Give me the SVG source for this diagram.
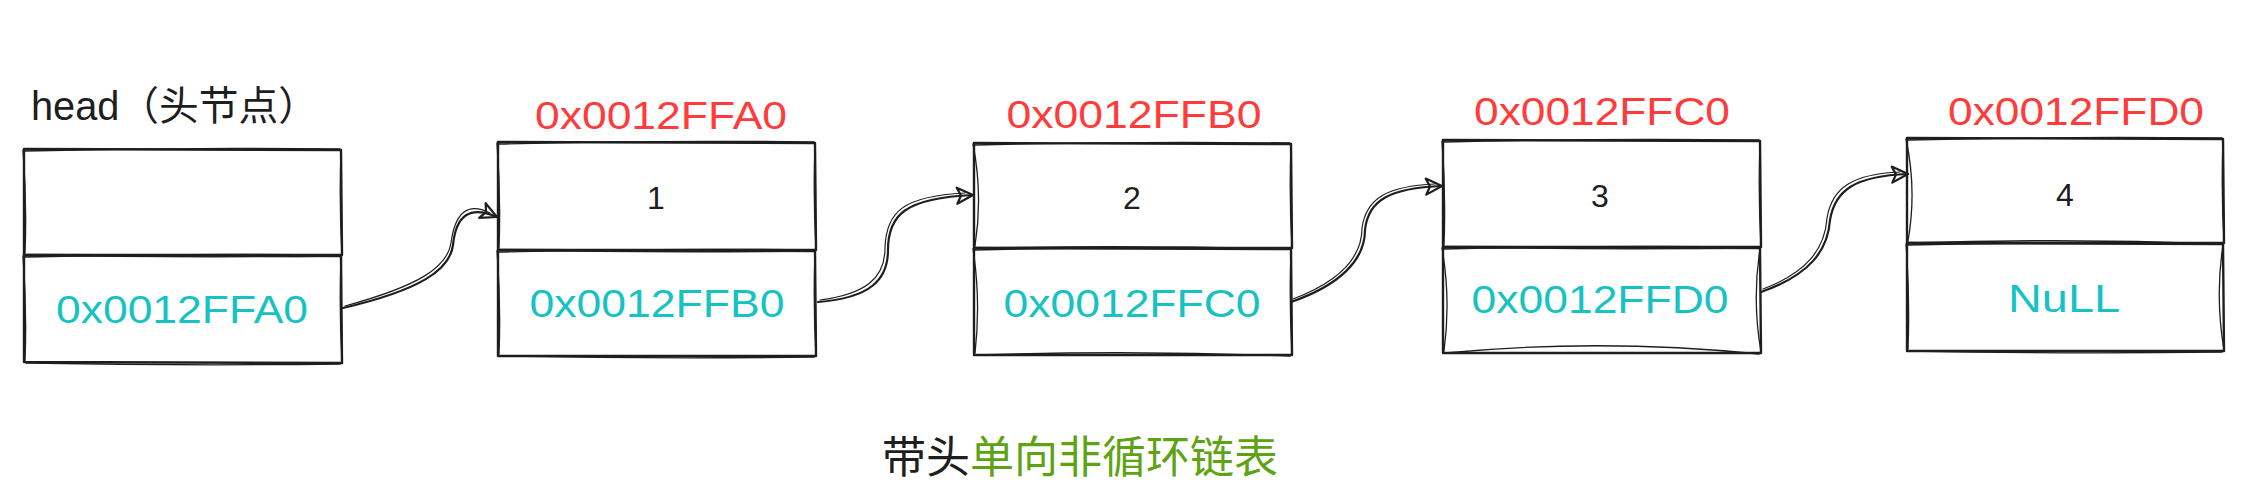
<svg xmlns="http://www.w3.org/2000/svg" width="2257" height="484" viewBox="0 0 2257 484">
<style>
.bg{fill:#ffffff}
.sk{fill:none;stroke:#1e1e1e;stroke-width:2.4;stroke-linecap:round;stroke-linejoin:round}
.sk2{fill:none;stroke:#1e1e1e;stroke-width:1.3;stroke-linecap:round}
.con{fill:none;stroke:#1e1e1e;stroke-width:2.2;stroke-linecap:round}
.con2{fill:none;stroke:#1e1e1e;stroke-width:1.2;stroke-linecap:round}
.addr{font-family:"Liberation Sans","Noto Sans",sans-serif;font-size:38px;fill:#ff3b3b;text-anchor:middle}
.ptr{font-family:"Liberation Sans","Noto Sans",sans-serif;font-size:38px;fill:#17c2c2;text-anchor:middle}
.val{font-family:"Liberation Sans","Noto Sans",sans-serif;font-size:32px;fill:#1e1e1e;text-anchor:middle}
.lbl{font-family:"Liberation Sans","Noto Sans CJK SC",sans-serif;font-size:40px;fill:#1e1e1e}
.cap{font-family:"Noto Sans CJK SC",sans-serif;font-size:44px}
</style>
<defs>
<marker id="arr" markerUnits="userSpaceOnUse" markerWidth="30" markerHeight="30" refX="20" refY="10" orient="auto" viewBox="0 0 30 20">
<path d="M4 2 L20 10 L4 18 L8 10 Z" fill="none" stroke="#1e1e1e" stroke-width="2.2" stroke-linejoin="round"/>
</marker>
</defs>
<rect class="bg" x="0" y="0" width="2257" height="484"/>

<g id="head">
<text class="lbl" x="31" y="120" textLength="287" lengthAdjust="spacingAndGlyphs">head（头节点）</text>
<path class="sk" d="M24 149 L341 150 L342 255 L24 255 Z"/>
<path class="sk2" d="M25 151 Q182 147 340 149 M341 151 Q339 202 342 254 M340 256 Q182 258 26 255 M25 253 Q27 202 23 150"/>
<path class="sk" d="M24 255 L341 256 L342 363 L24 362 Z"/>
<path class="sk2" d="M25 257 Q182 253 340 255 M341 257 Q339 309 342 362 M340 364 Q182 366 26 363 M25 361 Q27 309 23 256"/>
<text class="ptr" x="182" y="323" textLength="252" lengthAdjust="spacingAndGlyphs">0x0012FFA0</text>
</g>

<g id="node1">
<text class="addr" x="661" y="129" textLength="252" lengthAdjust="spacingAndGlyphs">0x0012FFA0</text>
<path class="sk" d="M498 142 L815 143 L816 250 L498 250 Z"/>
<path class="sk2" d="M499 144 Q656 140 814 142 M815 144 Q813 196 816 249 M814 251 Q656 253 500 250 M499 248 Q501 196 497 143"/>
<path class="sk" d="M498 250 L815 251 L816 356 L498 356 Z"/>
<path class="sk2" d="M499 252 Q656 248 814 250 M815 252 Q813 303 816 355 M814 357 Q656 359 500 356 M499 354 Q501 303 497 251"/>
<text class="val" x="656" y="209">1</text>
<text class="ptr" x="657" y="317" textLength="255" lengthAdjust="spacingAndGlyphs">0x0012FFB0</text>
</g>

<g id="node2">
<text class="addr" x="1134" y="128" textLength="255" lengthAdjust="spacingAndGlyphs">0x0012FFB0</text>
<path class="sk" d="M974 143 L1291 144 L1292 248 L974 248 Z"/>
<path class="sk2" d="M975 145 Q1132 141 1290 143 M1291 145 Q1289 195 1292 247 M1290 249 Q1132 245 976 248 M975 246 Q983 195 973 144"/>
<path class="sk" d="M974 248 L1291 249 L1292 355 L974 355 Z"/>
<path class="sk2" d="M975 250 Q1132 246 1290 248 M1291 250 Q1289 301 1292 354 M1290 356 Q1132 350 976 355 M975 353 Q981 301 973 249"/>
<text class="val" x="1132" y="209">2</text>
<text class="ptr" x="1132" y="317" textLength="257" lengthAdjust="spacingAndGlyphs">0x0012FFC0</text>
</g>

<g id="node3">
<text class="addr" x="1602" y="125" textLength="256" lengthAdjust="spacingAndGlyphs">0x0012FFC0</text>
<path class="sk" d="M1443 140 L1760 141 L1761 247 L1443 247 Z"/>
<path class="sk2" d="M1444 142 Q1601 138 1759 140 M1760 142 Q1758 193 1761 246 M1759 248 Q1601 250 1445 247 M1444 245 Q1446 193 1442 141"/>
<path class="sk" d="M1443 247 L1760 248 L1761 353 L1443 353 Z"/>
<path class="sk2" d="M1444 249 Q1601 245 1759 247 M1760 249 Q1752 300 1761 352 M1759 354 Q1601 338 1445 353 M1444 351 Q1451 300 1442 248"/>
<text class="val" x="1600" y="207">3</text>
<text class="ptr" x="1600" y="313" textLength="257" lengthAdjust="spacingAndGlyphs">0x0012FFD0</text>
</g>

<g id="node4">
<text class="addr" x="2076" y="125" textLength="256" lengthAdjust="spacingAndGlyphs">0x0012FFD0</text>
<path class="sk" d="M1907 138 L2223 139 L2224 243 L1907 243 Z"/>
<path class="sk2" d="M1908 140 Q2065 136 2222 138 M2223 140 Q2221 190 2224 242 M2222 244 Q2065 238 1909 243 M1908 241 Q1917 190 1906 139"/>
<path class="sk" d="M1907 243 L2223 244 L2224 351 L1907 351 Z"/>
<path class="sk2" d="M1908 245 Q2065 241 2222 243 M2223 245 Q2215 297 2224 350 M2222 352 Q2065 354 1909 351 M1908 349 Q1910 297 1906 244"/>
<text class="val" x="2065" y="206">4</text>
<text class="ptr" x="2064" y="312" textLength="112" lengthAdjust="spacingAndGlyphs">NuLL</text>
</g>

<g id="connectors">
<path class="con" marker-end="url(#arr)" d="M343 308 C420 290 450 270 453 245 C456 215 470 205 497 217"/>
<path class="con2" d="M345 306 C418 286 447 268 451 243 C455 212 468 202 490 213"/>
<path class="con" marker-end="url(#arr)" d="M818 302 C870 298 888 280 888 250 C888 215 905 198 973 195"/>
<path class="con2" d="M820 300 C866 294 885 278 885 248 C886 212 903 196 965 193"/>
<path class="con" marker-end="url(#arr)" d="M1291 302 C1340 285 1365 260 1365 230 C1368 200 1390 188 1442 186"/>
<path class="con2" d="M1293 299 C1338 282 1362 258 1362 228 C1366 198 1388 186 1435 184"/>
<path class="con" marker-end="url(#arr)" d="M1761 292 C1810 275 1828 250 1830 220 C1835 190 1855 176 1908 174"/>
<path class="con2" d="M1763 289 C1808 272 1825 248 1827 218 C1832 188 1852 174 1900 172"/>
</g>

<g id="caption">
<text class="cap" x="882" y="473"><tspan fill="#1e1e1e">带头</tspan><tspan fill="#5ea313">单向非循环链表</tspan></text>
</g>
</svg>
